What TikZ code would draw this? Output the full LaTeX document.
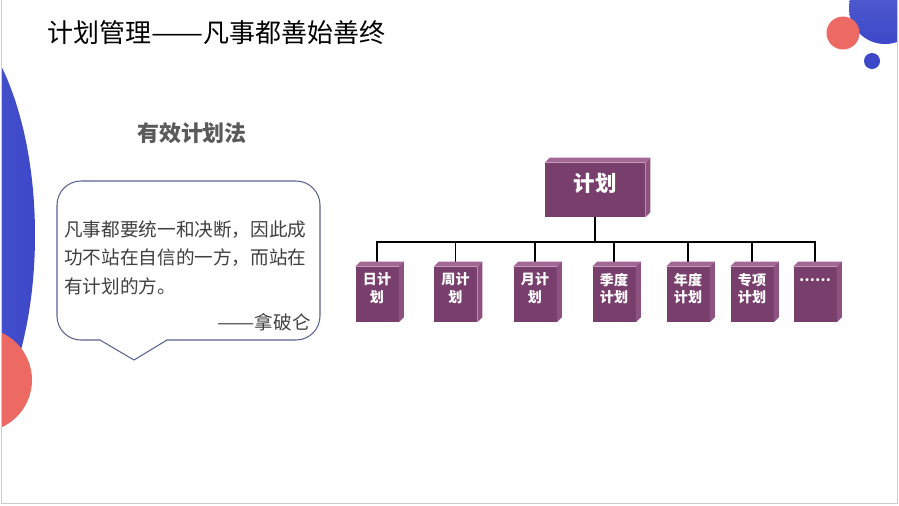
\documentclass[tikz,border=0pt]{standalone}
\usepackage{fontspec}
\usepackage{graphicx}
\setmainfont{Noto Sans CJK SC}
\usetikzlibrary{positioning,calc}

\definecolor{planfront}{RGB}{121,63,108}
\definecolor{plantop}{RGB}{162,103,149}
\definecolor{planside}{RGB}{142,82,128}
\definecolor{decoblue}{RGB}{60,72,200}
\definecolor{decored}{RGB}{236,106,99}
\definecolor{bubbleline}{RGB}{92,98,146}
\definecolor{quotegray}{RGB}{64,64,64}
\definecolor{headgray}{RGB}{90,90,90}

\begin{document}
\begin{tikzpicture}[x=0.02cm,y=-0.02cm,
  planbox/.style={rectangle,fill=planfront,inner sep=0pt},
  planlabel/.style={text=white,align=center,inner sep=0pt,anchor=north,
    font=\bfseries\fontsize{8}{9.7}\selectfont},
  link/.style={line width=0.8pt,black},
  bubble/.style={draw=bubbleline,fill=white,line width=0.6pt}]
\useasboundingbox (0,0) rectangle (899,505);
% Slide decorations (clipped to the slide)
\begin{scope}
\clip (2,0) rectangle (897,503);
\shade[left color=decoblue!80!white,right color=decoblue] (-70,235) ellipse [x radius=105,y radius=230];
\fill[decored] (-20,380) circle [radius=52];
\shade[top color=decoblue!85!white,bottom color=decoblue] (885,8) circle [radius=36];
\fill[decored] (843,33) circle [radius=16.5];
\fill[decoblue] (872,61) circle [radius=8];
\end{scope}
\draw[gray!40] (1.5,0) -- (1.5,503.5) -- (897.5,503.5) -- (897.5,0);
% Title and heading
\node[anchor=west,inner sep=0pt,font=\fontsize{14.8}{17}\selectfont] (title) at (47,33)
  {计划管理\resizebox{2em}{\height}{——}凡事都善始善终};
\node[text=headgray,font=\bfseries\fontsize{12.5}{15}\selectfont] (head) at (192,133) {有效计划法};
% Speech bubble with the quote
\filldraw[bubble] (100,340) -- (81,340) arc [start angle=90,end angle=180,radius=24]
  -- (57,205) arc [start angle=180,end angle=270,radius=24]
  -- (296,181) arc [start angle=270,end angle=360,radius=24]
  -- (320,316) arc [start angle=0,end angle=90,radius=24]
  -- (167,340) -- (134,360) -- cycle;
\node[anchor=north west,align=left,inner sep=0pt,text=quotegray,
  font=\fontsize{10.6}{16.2}\selectfont] (quote) at (64,220)
  {凡事都要统一和决断，因此成\\功不站在自信的一方，而站在\\有计划的方。};
\node[anchor=east,inner sep=0pt,text=quotegray,font=\fontsize{10.6}{13}\selectfont] (author) at (311,322)
  {\resizebox{2em}{\height}{——}拿破仑};
% Plan tree
\node[planbox,minimum width=2cm,minimum height=1.08cm] (plan) at (595,190) {};
\foreach \nm/\xc in {day/377,week/455.5,month/535,season/614,year/688,special/752,more/815}
  \node[planbox,minimum width=0.86cm,minimum height=1.1cm] (\nm) at (\xc,294.5) {};
\coordinate (bus) at (595,242);
\foreach \nm in {day,week,month,season,year,special,more}
  \draw[link] (plan.south) -- (plan.south |- bus) -| ([yshift=0.1cm]\nm.north);
% 3D faces of the boxes
\foreach \nm in {plan,day,week,month,season,year,special,more} {
  \fill[plantop] (\nm.north west) -- ++(5,-5) -- ($(\nm.north east)+(5,-5)$) -- (\nm.north east) -- cycle;
  \fill[planside] (\nm.north east) -- ++(5,-5) -- ($(\nm.south east)+(5,-5)$) -- (\nm.south east) -- cycle;
}
\node[planlabel,font=\bfseries\fontsize{12.2}{14}\selectfont] (plantxt) at ([yshift=-0.2cm]plan.north) {计划};
\foreach \nm/\txt in {day/{日计\\划},week/{周计\\划},month/{月计\\划},season/{季度\\计划},
    year/{年度\\计划},special/{专项\\计划},more/{\raisebox{-0.6em}{……}}}
  \node[planlabel] (\nm txt) at ([yshift=-0.12cm]\nm.north) {\txt};
\end{tikzpicture}
\end{document}
